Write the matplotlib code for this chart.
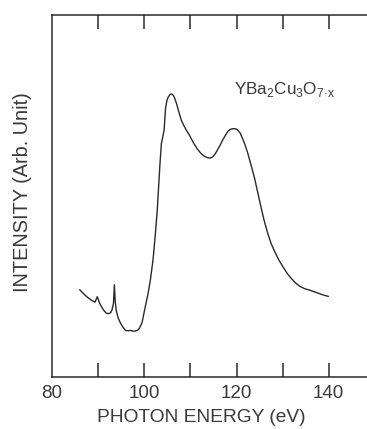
import matplotlib
matplotlib.use("Agg")
import matplotlib.pyplot as plt

plt.rcParams['font.family'] = ['Liberation Sans', 'DejaVu Sans']

# Photoabsorption spectrum of YBa2Cu3O7-x (arbitrary intensity units)
energy_ev = [86.0, 87.0, 87.9, 88.7, 89.3, 89.8, 90.3, 91.1, 91.7, 92.2, 92.7,
             93.0, 93.3, 93.5, 93.7, 93.9, 94.3, 94.8, 95.3, 95.9, 96.5, 97.0,
             97.5, 98.0, 98.5, 98.9, 99.5, 100.2, 100.8, 101.3, 101.9, 102.4,
             102.8, 103.1, 103.4, 103.7, 104.0, 104.3, 104.6, 104.9, 105.2,
             105.6, 105.9, 106.3, 106.6, 107.0, 107.5, 108.0, 108.6, 109.1,
             109.7, 110.2, 110.8, 111.5, 112.2, 113.0, 113.7, 114.3, 114.8,
             115.4, 115.9, 116.5, 117.0, 117.6, 118.1, 118.6, 119.2, 119.7,
             120.2, 120.8, 121.3, 121.8, 122.4, 123.1, 123.9, 124.6, 125.3,
             126.0, 126.8, 127.5, 128.3, 129.2, 130.1, 131.0, 131.9, 132.8,
             133.7, 134.8, 135.9, 137.0, 138.1, 139.0, 139.9]
intensity = [24.1, 22.8, 21.8, 21.1, 20.7, 22.2, 20.4, 18.6, 17.7, 17.5, 17.8,
             18.6, 20.3, 25.5, 20.8, 18.5, 16.4, 15.0, 13.9, 12.9, 12.8, 12.9,
             12.7, 12.7, 12.9, 13.4, 15.0, 19.4, 23.0, 26.7, 32.5, 39.6,
             46.0, 52.5, 59.0, 64.5, 66.3, 68.3, 74.2, 76.4, 77.4,
             78.1, 78.2, 77.8, 77.0, 75.5, 73.2, 71.0, 69.4, 68.2,
             67.0, 65.8, 64.4, 63.0, 61.9, 61.0, 60.6, 60.5, 60.8,
             61.7, 62.8, 64.2, 65.5, 66.8, 67.8, 68.4, 68.6, 68.6,
             68.3, 67.4, 65.9, 64.3, 62.0, 58.8, 55.0, 51.0, 47.0,
             43.2, 39.6, 36.9, 34.6, 32.3, 30.4, 28.6, 27.2, 26.0,
             25.1, 24.4, 24.0, 23.5, 23.0, 22.6, 22.3]

label_ticks = [80, 100, 120, 140]
major_ticks = [90, 100, 110, 120, 130, 140]

ink = '#2a2a2a'
text_ink = '#3a3a3a'

fig = plt.figure(figsize=(3.67, 4.29), dpi=100)
ax = fig.add_axes([0.142, 0.121, 0.858, 0.844])
ax.plot(energy_ev, intensity, color=ink, lw=1.0)

ax.set_xlim(80, 148.3)
ax.set_ylim(0, 100)

ax.spines['right'].set_visible(False)
for side in ('left', 'top', 'bottom'):
    ax.spines[side].set_color(ink)
    ax.spines[side].set_linewidth(1.1)

ax.set_yticks([])
ax.set_xticks(major_ticks)
ax.set_xticklabels([])
ax.tick_params(axis='x', which='both', direction='in', length=10, width=1.1,
               color=ink, top=True, bottom=True, labelbottom=False)

for t in label_ticks:
    ax.annotate(str(t), xy=(t, 0), xycoords=('data', 'axes fraction'),
                xytext=(0, -5.5), textcoords='offset points',
                ha='center', va='top', fontsize=13.5, color=text_ink)

ax.set_xlabel('PHOTON ENERGY (eV)', fontsize=13.8, color=text_ink)
ax.xaxis.set_label_coords(0.475, -0.088)
ax.xaxis.label.set_va('top')
ax.set_ylabel('INTENSITY (Arb. Unit)', fontsize=14.3, color=text_ink)
ax.yaxis.set_label_coords(-0.095, 0.51)
ax.yaxis.label.set_va('center')

ax.text(119.5, 79.3, 'YBa$_\\mathregular{2}$Cu$_\\mathregular{3}$O$_\\mathregular{7\u00b7x}$',
        fontsize=12.3, color=text_ink, ha='left', va='center')

fig.savefig('out.png', dpi=100)
